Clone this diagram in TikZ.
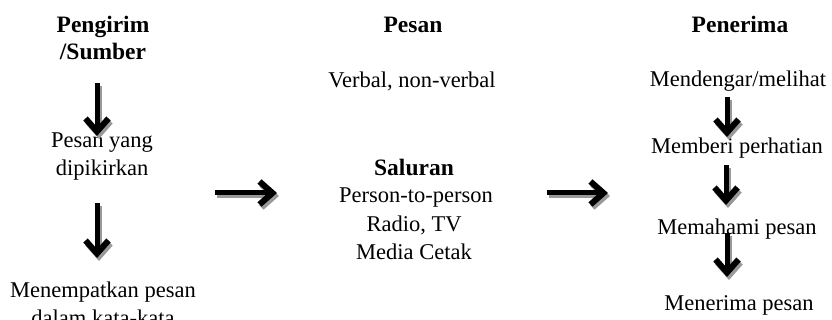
\documentclass[tikz,border=0pt]{standalone}
\usepackage{fontspec}
\setmainfont{Liberation Serif}
\usetikzlibrary{arrows.meta,calc}
\begin{document}
\begin{tikzpicture}[x=1pt,y=-1pt,
  txt/.style={anchor=base,inner sep=0pt,font=\fontsize{22.5}{27}\selectfont},
  ttl/.style={txt,font=\fontsize{23.5}{27}\selectfont\bfseries},
  arr/.style={line width=5pt,-{Straight Barb[length=13pt,width=23pt,line width=6pt]}},
  shd/.style={arr,draw=black!40}]
\useasboundingbox (0,0) rectangle (832,320);
% Left column
\node[ttl] (t1a) at (103,33) {Pengirim};
\node[ttl] (t1b) at (103,60) {/Sumber};
\node[txt] (l1a) at (102,148) {Pesan yang};
\node[txt] (l1b) at (102,176) {dipikirkan};
\node[txt] (l2a) at (103,297) {Menempatkan pesan};
\node[txt] (l2b) at (103,325) {dalam kata-kata};
% Middle column
\node[ttl] (t2) at (413,33) {Pesan};
\node[txt] (m1) at (412,88) {Verbal, non-verbal};
\node[ttl] (m2) at (414,176) {Saluran};
\node[txt] (m3) at (416,203) {Person-to-person};
\node[txt] (m4) at (414,232) {Radio, TV};
\node[txt] (m5) at (414,260) {Media Cetak};
% Right column
\node[ttl] (t3) at (740,33) {Penerima};
\node[txt] (r1) at (738,87) {Mendengar/melihat};
\node[txt] (r2) at (737,154) {Memberi perhatian};
\node[txt] (r3) at (737,235) {Memahami pesan};
\node[txt] (r4) at (739,310) {Menerima pesan};
% arrow end points
\coordinate (a1s) at (97,83);  \coordinate (a1e) at (97,136);
\coordinate (a2s) at (97,203); \coordinate (a2e) at (97,258);
\coordinate (h1s) at (215,193); \coordinate (h1e) at (277,193);
\coordinate (h2s) at (547,193); \coordinate (h2e) at (608,193);
\coordinate (b1s) at (727,97);  \coordinate (b1e) at (727,137);
\coordinate (b2s) at (726,165); \coordinate (b2e) at (726,205);
\coordinate (b3s) at (727,233); \coordinate (b3e) at (727,277);
\foreach \s/\e in {a1s/a1e,a2s/a2e,h1s/h1e,h2s/h2e,b1s/b1e,b2s/b2e,b3s/b3e}{
  \draw[shd] ($(\s)+(2,3)$) -- ($(\e)+(2,3)$);
  \draw[arr] (\s) -- (\e);
}
\end{tikzpicture}
\end{document}
